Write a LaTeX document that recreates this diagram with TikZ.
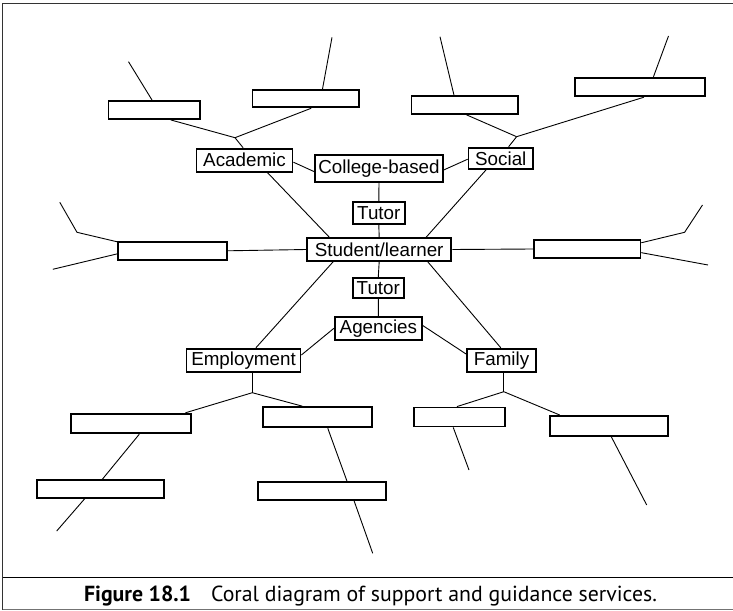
\documentclass[tikz,border=0pt]{standalone}
\usepackage{fontspec}
\setmainfont{Liberation Sans}
\newfontfamily\capfont{PT Sans}
\usetikzlibrary{calc}
\begin{document}
\begin{tikzpicture}[x=1bp, y=-1bp,
  card/.style 2 args={draw, line width=1.8bp, inner sep=0pt,
    minimum width=#1, minimum height=#2,
    font=\fontsize{18.8bp}{21bp}\selectfont},
  link/.style={line width=0.9bp},
  frameline/.style={line width=1.4bp, black!80}]
\useasboundingbox (0,0) rectangle (733,611);

% outer frame and caption rule
\draw[frameline] (2.7,609.5) -- (2.7,3.3) -- (733,3.3);
\draw[frameline, black] (2.7,577.5) -- (733,577.5);
\draw[frameline, black!55] (2.7,609.5) -- (733,609.5);

% labelled boxes
\node[card={96bp}{23bp}]    (academic)   at (244.5,160.2) {Academic};
\node[card={128bp}{26.4bp}] (college)    at (379,168.5)   {College-based};
\node[card={64.5bp}{21.3bp}](social)     at (500.8,158.3) {Social};
\node[card={52.3bp}{22bp}]  (tutor1)     at (378.8,213)   {Tutor};
\node[card={144.3bp}{22.3bp}](student)   at (379.2,249.5) {Student/learner};
\node[card={51.3bp}{20.6bp}](tutor2)     at (378.3,288)   {Tutor};
\node[card={87.2bp}{22.7bp}](agencies)   at (378.4,328.3) {Agencies};
\node[card={114bp}{23bp}]   (employment) at (243.5,360.2) {Employment};
\node[card={68.3bp}{23bp}]  (family)     at (501.5,360.2) {Family};

% empty boxes
\node[card={91.5bp}{18bp}]   (b1) at (154.3,110)  {};
\node[card={106.5bp}{17.3bp}](b2) at (305.8,98.7) {};
\node[card={106.5bp}{18bp}]  (b3) at (464.8,105)  {};
\node[card={130bp}{18.6bp}]  (b4) at (640,87)     {};
\node[card={108.8bp}{18.3bp}](lbox) at (172.3,250.8) {};
\node[card={106.4bp}{18bp}]  (rbox) at (587.2,249)   {};
\node[card={119.6bp}{19.6bp}](eA) at (130.8,423.5) {};
\node[card={109bp}{20.3bp}]  (eB) at (317.8,417.2) {};
\node[card={127.3bp}{17.4bp}](eC) at (100.3,489)   {};
\node[card={128bp}{18bp}]    (eD) at (322.3,491)   {};
\node[card={90.7bp}{19bp}]   (fE) at (459.7,417)   {};
\node[card={117.7bp}{19.7bp}](fF) at (608.8,425.8) {};

% forks and free ends
\coordinate (jA) at (235,137.7);
\coordinate (jS) at (516.6,136.7);
\coordinate (jE) at (252.3,392.7);
\coordinate (jF) at (503.8,391.7);
\coordinate (kL) at (77,232.3);
\coordinate (kR) at (684.6,232.3);
\coordinate (t1) at (128.5,61.7);
\coordinate (t2) at (332,37.3);
\coordinate (t3) at (440,36.7);
\coordinate (t4) at (668.5,36);
\coordinate (l1) at (59.8,202.3);
\coordinate (l2) at (52.8,269.3);
\coordinate (r1) at (702.5,205);
\coordinate (r2) at (708,265);
\coordinate (e1) at (56.7,531);
\coordinate (e2) at (372.7,553.3);
\coordinate (f1) at (469,470);
\coordinate (f2) at (646.7,505);

\begin{scope}[link]
% academic branch
\draw (jA) -- ($(b1.south west)!0.675!(b1.south east)$);
\draw (jA) -- ($(b2.south west)!0.55!(b2.south east)$);
\draw (jA) -- ($(academic.north west)!0.486!(academic.north east)$);
\draw ($(b1.north west)!0.476!(b1.north east)$) -- (t1);
\draw ($(b2.north west)!0.654!(b2.north east)$) -- (t2);
% social branch
\draw (jS) -- ($(b3.south west)!0.517!(b3.south east)$);
\draw (jS) -- ($(b4.south west)!0.53!(b4.south east)$);
\draw (jS) -- ($(social.north west)!0.618!(social.north east)$);
\draw ($(b3.north west)!0.4!(b3.north east)$) -- (t3);
\draw ($(b4.north west)!0.602!(b4.north east)$) -- (t4);
% centre ring
\draw ($(academic.north east)!0.58!(academic.south east)$) -- ($(college.north west)!0.61!(college.south west)$);
\draw ($(college.north east)!0.55!(college.south east)$) -- ($(social.north west)!0.54!(social.south west)$);
\draw ($(academic.south west)!0.735!(academic.south east)$) -- ($(student.north west)!0.16!(student.north east)$);
\draw ($(social.south west)!0.278!(social.south east)$) -- ($(student.north west)!0.82!(student.north east)$);
\draw (college.south) -- (tutor1.north);
\draw (tutor1.south) -- (student.north);
\draw (student.south) -- (tutor2.north);
\draw (tutor2.south) -- (agencies.north);
\draw (lbox.east) -- (student.west);
\draw (student.east) -- (rbox.west);
\draw ($(student.south west)!0.186!(student.south east)$) -- ($(employment.north west)!0.607!(employment.north east)$);
\draw ($(student.south west)!0.831!(student.south east)$) -- ($(family.north west)!0.49!(family.north east)$);
\draw (agencies.west) -- ($(employment.north east)!0.29!(employment.south east)$);
\draw ($(agencies.north east)!0.39!(agencies.south east)$) -- ($(family.north west)!0.26!(family.south west)$);
% side branches
\draw ($(lbox.north west)!0.05!(lbox.south west)$) -- (kL) -- (l1);
\draw ($(lbox.north west)!0.655!(lbox.south west)$) -- (l2);
\draw ($(rbox.north east)!0.185!(rbox.south east)$) -- (kR) -- (r1);
\draw ($(rbox.north east)!0.685!(rbox.south east)$) -- (r2);
% employment branch
\draw (jE |- employment.south) -- (jE);
\draw (jE) -- ($(eA.north west)!0.95!(eA.north east)$);
\draw (jE) -- ($(eB.north west)!0.36!(eB.north east)$);
\draw ($(eA.south west)!0.57!(eA.south east)$) -- ($(eC.north west)!0.515!(eC.north east)$);
\draw ($(eC.south west)!0.38!(eC.south east)$) -- (e1);
\draw ($(eB.south west)!0.59!(eB.south east)$) -- ($(eD.north west)!0.69!(eD.north east)$);
\draw ($(eD.south west)!0.745!(eD.south east)$) -- (e2);
% family branch
\draw (jF |- family.south) -- (jF);
\draw (jF) -- ($(fE.north west)!0.47!(fE.north east)$);
\draw (jF) -- ($(fF.north west)!0.09!(fF.north east)$);
\draw ($(fE.south west)!0.43!(fE.south east)$) -- (f1);
\draw ($(fF.south west)!0.52!(fF.south east)$) -- (f2);
\end{scope}

% caption
\node[anchor=base, inner sep=0pt, font=\capfont\fontsize{21.8bp}{25bp}\selectfont]
  (caption) at (370.5,601.7)
  {\textbf{Figure 18.1}\hspace{20bp}Coral diagram of support and guidance services.};
\end{tikzpicture}
\end{document}
